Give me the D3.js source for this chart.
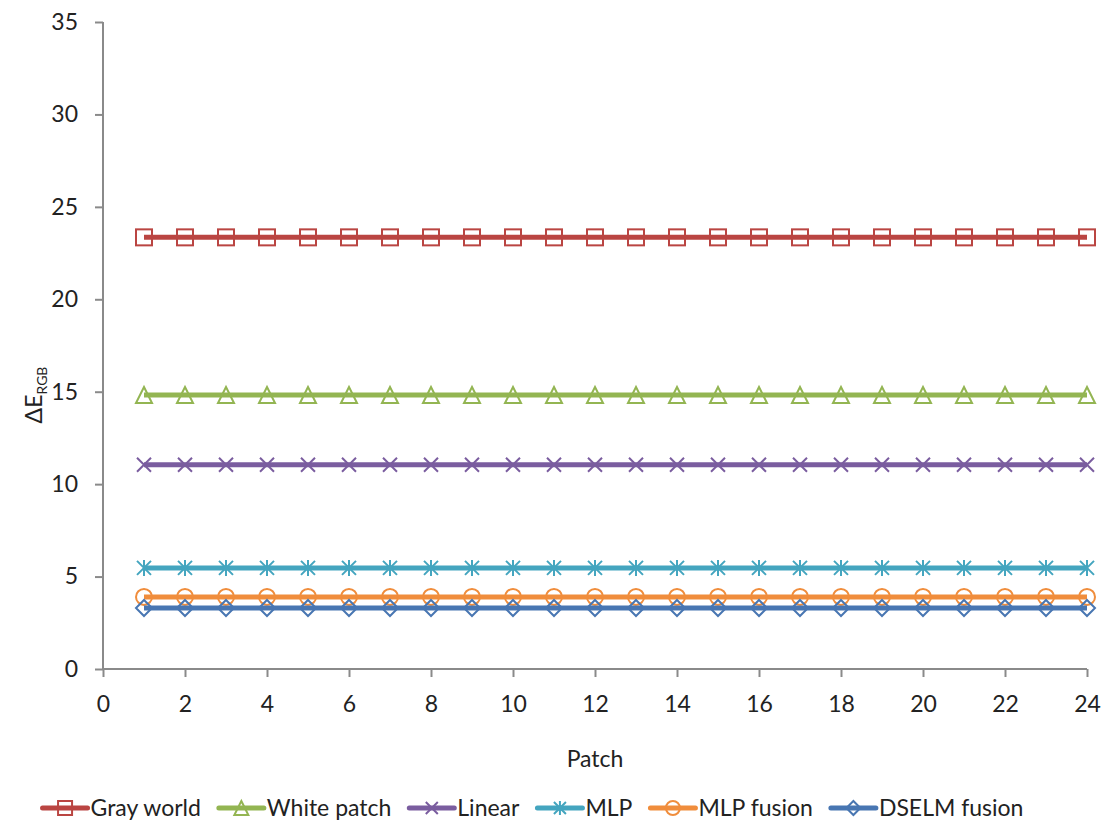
<!DOCTYPE html>
<html>
<head>
<meta charset="utf-8">
<script src="https://cdn.jsdelivr.net/npm/d3@7/dist/d3.min.js"></script>
<style>
  body { margin: 0; background: #fff; }
  text { font-family: Lato, "Open Sans", sans-serif; fill: #222; }
</style>
</head>
<body>
<svg id="chart"></svg>
<script>
/** * * * * DATA * * * * */
const patches = d3.range(1, 25);
const seriesNames = ['Gray world', 'White patch', 'Linear', 'MLP', 'MLP fusion', 'DSELM fusion'];
const seriesLevels = [23.35, 14.82, 11.05, 5.47, 3.9, 3.3];
const seriesColors = ['#BA4542', '#93B552', '#7A5D9F', '#44A5BF', '#F08D3C', '#4876B2'];
const seriesMarkers = ['square', 'triangle', 'cross', 'star', 'circle', 'diamond'];
const xTicks = d3.range(0, 25, 2);
const yTicks = d3.range(0, 36, 5);

/** * * * * CONSTANTS * * * * */
const width = 1109;
const height = 824;
const margin = { top: 22, bottom: 155, left: 103, right: 22 };
const fontSize = '23px';

const svg = d3.select('#chart')
  .attr('width', width)
  .attr('height', height);

const xScale = d3.scaleLinear()
  .domain([0, 24])
  .range([margin.left, width - margin.right]);

const yScale = d3.scaleLinear()
  .domain([0, 35])
  .range([height - margin.bottom, margin.top]);

// axes
const xAxis = svg.append('g')
  .attr('transform', `translate(0,${height - margin.bottom})`)
  .call(d3.axisBottom(xScale).tickValues(xTicks).tickSize(8).tickPadding(19));

const yAxis = svg.append('g')
  .attr('transform', `translate(${margin.left},0)`)
  .call(d3.axisLeft(yScale).tickValues(yTicks).tickSize(8).tickPadding(17));

[xAxis, yAxis].forEach(function(ax) {
  ax.select('.domain').attr('stroke', '#8a8a8a').attr('stroke-width', 2);
  ax.selectAll('.tick line').attr('stroke', '#8a8a8a').attr('stroke-width', 2);
  ax.selectAll('.tick text')
    .style('font-size', fontSize)
    .style('font-family', 'Lato, "Open Sans", sans-serif')
    .attr('fill', '#222');
});
// domain without the outer end ticks
xAxis.select('.domain').attr('d', `M${xScale(0)},0H${xScale(24)}`);
yAxis.select('.domain').attr('d', `M0,${yScale(0)}V${yScale(35)}`);

/**
 * draws a marker of the given type centered on 0,0
 */
function drawMarker(g, type, color, s) {
  s = s || 8;
  const c = s - 1;
  let shape;
  if (type === 'square') {
    shape = g.append('rect').attr('x', -s).attr('y', -s).attr('width', 2 * s).attr('height', 2 * s);
  } else if (type === 'triangle') {
    shape = g.append('path').attr('d', `M0,${-s}L${s},${s}L${-s},${s}Z`);
  } else if (type === 'cross') {
    shape = g.append('path').attr('d', `M${-c},${-c}L${c},${c}M${-c},${c}L${c},${-c}`);
  } else if (type === 'star') {
    shape = g.append('path').attr('d', `M${-c},${-c}L${c},${c}M${-c},${c}L${c},${-c}M0,${-s}V${s}`);
  } else if (type === 'circle') {
    shape = g.append('circle').attr('r', s);
  } else if (type === 'diamond') {
    shape = g.append('path').attr('d', `M0,${-s}L${s},0L0,${s}L${-s},0Z`);
  }
  shape.attr('fill', 'none').attr('stroke', color).attr('stroke-width', 2);
}

const lineFunction = d3.line()
  .x(function(d) { return xScale(d.patch); })
  .y(function(d) { return yScale(d.value); });

// draw each series
seriesNames.forEach(function(name, i) {
  const data = patches.map(function(p) { return { patch: p, value: seriesLevels[i] }; });
  const g = svg.append('g').attr('class', 'series');
  g.append('path')
    .datum(data)
    .attr('d', lineFunction)
    .attr('fill', 'none')
    .attr('stroke', seriesColors[i])
    .attr('stroke-width', 5);
  data.forEach(function(d) {
    const m = g.append('g')
      .attr('transform', `translate(${xScale(d.patch)},${yScale(d.value)})`);
    drawMarker(m, seriesMarkers[i], seriesColors[i]);
  });
});

// axis titles
svg.append('text')
  .attr('x', (xScale(0) + xScale(24)) / 2)
  .attr('y', 767)
  .attr('text-anchor', 'middle')
  .style('font-size', fontSize)
  .text('Patch');

const yLabel = svg.append('text')
  .attr('transform', 'translate(42,395) rotate(-90)')
  .attr('text-anchor', 'middle')
  .style('font-size', fontSize);
yLabel.append('tspan').text('ΔE');
yLabel.append('tspan').attr('dy', 5).style('font-size', '14px').text('RGB');

// legend
const legend = svg.append('g').attr('class', 'legend');
const gap = 18;
let lx = 0;
seriesNames.forEach(function(name, i) {
  const item = legend.append('g').attr('transform', `translate(${lx},0)`);
  item.append('line')
    .attr('x1', 0).attr('x2', 45).attr('y1', 0).attr('y2', 0)
    .attr('stroke', seriesColors[i]).attr('stroke-width', 5)
    .attr('stroke-linecap', 'round');
  const m = item.append('g').attr('transform', 'translate(22.5,0)');
  drawMarker(m, seriesMarkers[i], seriesColors[i], 7);
  const t = item.append('text')
    .attr('x', 48)
    .attr('y', 8)
    .style('font-size', fontSize)
    .text(name);
  lx += 48 + t.node().getComputedTextLength() + gap;
});
const legendWidth = lx - gap;
legend.attr('transform', `translate(${533 - legendWidth / 2},808)`);
</script>
</body>
</html>
